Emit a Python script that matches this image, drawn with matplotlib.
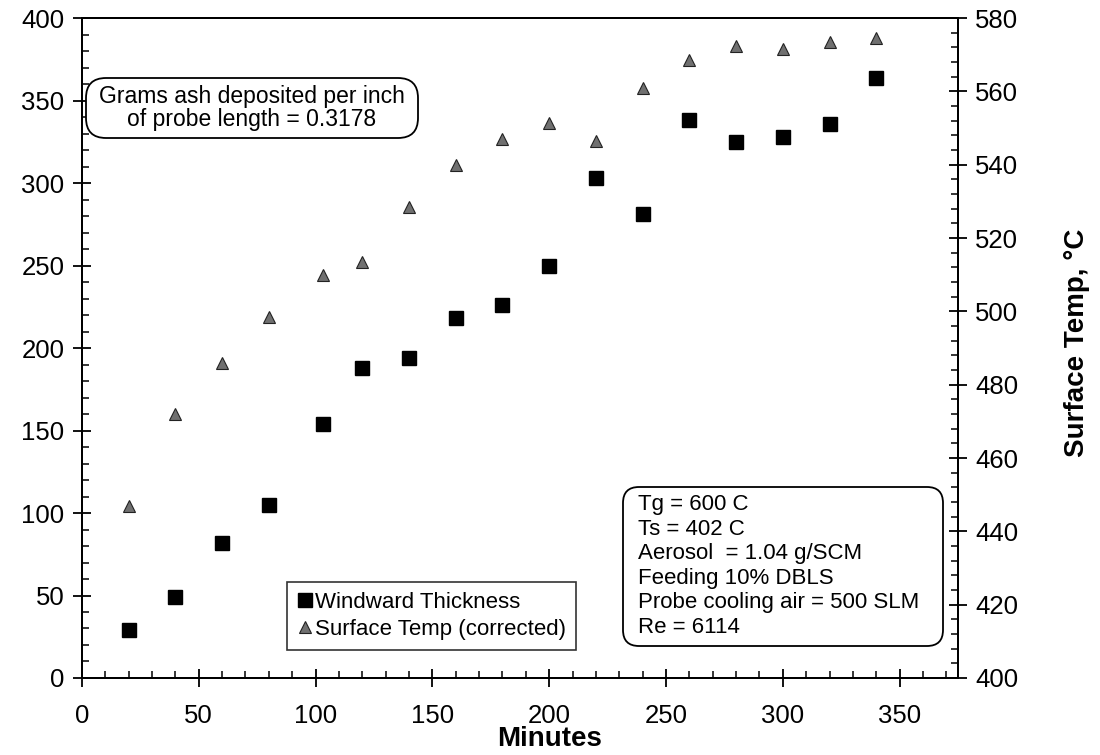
import matplotlib
matplotlib.use('Agg')
import matplotlib.pyplot as plt
from matplotlib.ticker import MultipleLocator
from matplotlib.patches import FancyBboxPatch

plt.rcParams['font.family'] = ['Liberation Sans', 'DejaVu Sans']

# data
minutes = [20, 40, 60, 80, 103, 120, 140, 160, 180, 200, 220, 240, 260, 280, 300, 320, 340]
thickness = [29, 49, 82, 105, 154, 188, 194, 218, 226, 250, 303, 281, 338, 325, 328, 336, 364]
surf_temp = [447, 472, 486, 498.5, 510, 513.5, 528.5, 540, 547, 551.5, 546.5, 561, 568.5, 572.5, 571.5, 573.5, 574.5]

W, H = 1100, 755
fig = plt.figure(figsize=(W / 100, H / 100), dpi=100)
ax = fig.add_axes([0.0745, 0.102, 0.7964, 0.874])
ax2 = ax.twinx()

ax.plot(minutes, thickness, 's', color='black', ms=10.5, zorder=3, label='Windward Thickness')
ax2.plot(minutes, surf_temp, '^', mfc='#707070', mec='#222222', mew=0.8, ms=8, zorder=3,
         label='Surface Temp (corrected)')

ax.set_xlim(0, 375)
ax.set_ylim(0, 400)
ax2.set_ylim(400, 580)

ax.xaxis.set_major_locator(MultipleLocator(50))
ax.xaxis.set_minor_locator(MultipleLocator(10))
ax.yaxis.set_major_locator(MultipleLocator(50))
ax.yaxis.set_minor_locator(MultipleLocator(10))
ax2.yaxis.set_major_locator(MultipleLocator(20))
ax2.yaxis.set_minor_locator(MultipleLocator(4))

for a in (ax, ax2):
    for s in a.spines.values():
        s.set_linewidth(1.4)
    a.tick_params(which='major', direction='inout', length=13, width=1.3, labelsize=18.5, pad=6)
    a.tick_params(which='minor', direction='in', length=5, width=1.1)
ax.tick_params(axis='x', which='major', pad=12)
ax.tick_params(top=False, right=False, which='both')

fig.text(0.5, 0.004, 'Minutes', ha='center', va='bottom', fontsize=20, fontweight='bold')
fig.text(0.979, 0.5457, 'Surface Temp, \u00b0C', ha='center', va='center', rotation=90,
         fontsize=20, fontweight='bold')


# rounded annotation boxes, given in pixel positions of the picture (top-left origin)
def round_box(x0, y0, x1, y1, r):
    box = FancyBboxPatch((x0 / W, 1 - y1 / H), (x1 - x0) / W, (y1 - y0) / H,
                         boxstyle=f'round,pad=0,rounding_size={r / W}',
                         mutation_aspect=W / H, transform=fig.transFigure,
                         fc='white', ec='black', lw=1.3, zorder=4)
    fig.add_artist(box)


round_box(86, 78, 418, 138, 20)
fig.text(252 / W, 1 - 108 / H, 'Grams ash deposited per inch\nof probe length = 0.3178',
         ha='center', va='center', fontsize=16.5, linespacing=1.05, zorder=5)

round_box(623, 487, 943, 646, 16)
fig.text(638 / W, 1 - 566 / H, 'Tg = 600 C\nTs = 402 C\nAerosol  = 1.04 g/SCM\nFeeding 10% DBLS\n'
         'Probe cooling air = 500 SLM\nRe = 6114',
         ha='left', va='center', fontsize=16, linespacing=1.22, zorder=5)

h1, l1 = ax.get_legend_handles_labels()
h2, l2 = ax2.get_legend_handles_labels()
leg = ax2.legend(h1 + h2, l1 + l2, loc='upper left', bbox_to_anchor=(0.234, 0.1455),
                 fontsize=16, frameon=True, fancybox=False, edgecolor='black',
                 handlelength=0.7, handletextpad=0.1, borderpad=0.45, labelspacing=0.25,
                 borderaxespad=0)
leg.get_frame().set_linewidth(1.2)

fig.savefig('out.png', dpi=100)
